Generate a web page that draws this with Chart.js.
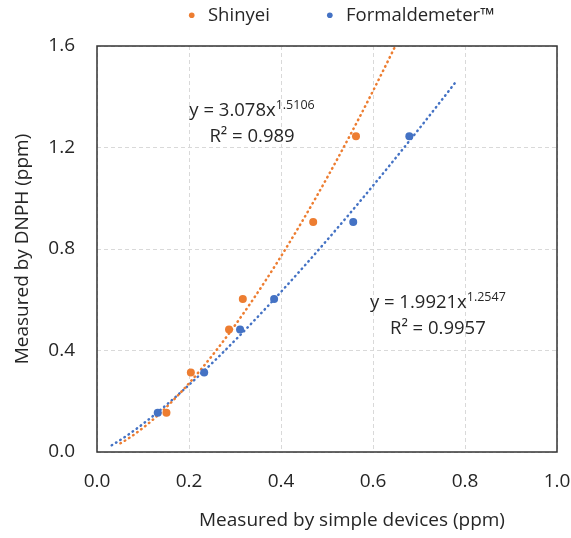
<!DOCTYPE html>
<html>
<head>
<meta charset="utf-8">
<script src="https://cdn.jsdelivr.net/npm/chart.js@4.4.1/dist/chart.umd.min.js"></script>
<style>
  html, body { margin: 0; padding: 0; background: #ffffff; }
  .wrap { width: 571px; height: 538px; }
</style>
</head>
<body>
<div class="wrap"><canvas id="calib" width="571" height="538"></canvas></div>
<script>
// values
const seriesNames = ['Shinyei', 'Formaldemeter\u2122']
const dnph = [0.155, 0.313, 0.483, 0.603, 0.906, 1.244]
const shinyei = [0.151, 0.204, 0.287, 0.317, 0.470, 0.563]
const formaldemeter = [0.132, 0.233, 0.311, 0.385, 0.557, 0.679]

// power trendlines y = a * x^b as printed on the chart
const coefA = [3.078, 1.9921]
const coefB = [1.5106, 1.2547]
const rSquared = [0.989, 0.9957]
const trendFrom = [0.051, 0.032]
const trendTo = [0.663, 0.779]

const xTicks = [0, 0.2, 0.4, 0.6, 0.8, 1.0]
const yTicks = [0, 0.4, 0.8, 1.2, 1.6]

const colors = ['#ED7D31', '#4472C4']
const txt = '#262626'
const fontFam = '"Open Sans", "DejaVu Sans", sans-serif'

const pts = (xs) => xs.map((x, i) => ({x: x, y: dnph[i]}))
const trend = (i) => {
  const out = []
  const n = 60
  for (let k = 0; k <= n; k++) {
    const x = trendFrom[i] + (trendTo[i] - trendFrom[i]) * k / n
    out.push({x: x, y: coefA[i] * Math.pow(x, coefB[i])})
  }
  return out
}

// where the fit labels sit, in axis units
const labelAt = [[0.337, 1.344], [0.741, 0.587]]

const fitLabels = {
  id: 'fitLabels',
  afterDatasetsDraw(chart) {
    const {ctx, scales} = chart
    ctx.save()
    ctx.fillStyle = txt
    ctx.textBaseline = 'middle'
    ctx.textAlign = 'left'
    labelAt.forEach((p, i) => {
      const cx = scales.x.getPixelForValue(p[0])
      const cy = scales.y.getPixelForValue(p[1])
      const main = 'y = ' + coefA[i] + 'x'
      const sup = String(coefB[i])
      ctx.font = '18.5px ' + fontFam
      const w1 = ctx.measureText(main).width
      ctx.font = '12.5px ' + fontFam
      const w2 = ctx.measureText(sup).width
      let x0 = cx - (w1 + w2) / 2
      ctx.font = '18.5px ' + fontFam
      ctx.fillText(main, x0, cy)
      ctx.font = '12.5px ' + fontFam
      ctx.fillText(sup, x0 + w1, cy - 6)
      ctx.font = '18.5px ' + fontFam
      const r = 'R\u00b2 = ' + rSquared[i]
      const w3 = ctx.measureText(r).width
      ctx.fillText(r, cx - w3 / 2, cy + 26)
    })
    ctx.restore()
  }
}

const frame = {
  id: 'frame',
  afterLayout(chart) {
    // nudge the legend row and the x title to where the original puts them
    const lg = chart.legend
    lg.left += 61
    lg.right += 61
    lg.top = 15 - 9 - 53
    lg.bottom = 40
    chart.scales.x.left += 25
    chart.scales.x.right += 25
  },
  afterDraw(chart) {
    const {ctx, chartArea: a} = chart
    ctx.save()
    ctx.strokeStyle = '#333333'
    ctx.lineWidth = 1.5
    ctx.strokeRect(a.left, a.top, a.right - a.left, a.bottom - a.top)
    ctx.restore()
  }
}

const ctx = document.getElementById('calib').getContext('2d')
const chart = new Chart(ctx, {
  type: 'scatter',
  data: {
    datasets: [{
      label: seriesNames[0],
      data: pts(shinyei),
      backgroundColor: colors[0],
      borderColor: colors[0],
      pointRadius: 4,
      pointBorderWidth: 0
    }, {
      label: seriesNames[1],
      data: pts(formaldemeter),
      backgroundColor: colors[1],
      borderColor: colors[1],
      pointRadius: 4,
      pointBorderWidth: 0
    }, {
      label: 'trend ' + seriesNames[0],
      data: trend(0),
      showLine: true,
      pointRadius: 0,
      borderColor: colors[0],
      borderWidth: 2.5,
      borderDash: [0.5, 4.5],
      borderCapStyle: 'round'
    }, {
      label: 'trend ' + seriesNames[1],
      data: trend(1),
      showLine: true,
      pointRadius: 0,
      borderColor: colors[1],
      borderWidth: 2.5,
      borderDash: [0.5, 4.5],
      borderCapStyle: 'round'
    }]
  },
  options: {
    responsive: false,
    animation: false,
    devicePixelRatio: 1,
    layout: {
      padding: {left: 0, right: 14, top: 6, bottom: 0}
    },
    plugins: {
      tooltip: {enabled: false},
      legend: {
        position: 'top',
        maxHeight: 40,
        labels: {
          filter: (item) => item.datasetIndex < 2,
          usePointStyle: true,
          pointStyle: 'circle',
          boxWidth: 14,
          boxHeight: 4,
          padding: 53,
          color: txt,
          font: {family: fontFam, size: 18.5}
        }
      }
    },
    scales: {
      x: {
        type: 'linear',
        min: 0,
        max: 1,
        clip: false,
        afterBuildTicks: (s) => { s.ticks = xTicks.map(v => ({value: v})) },
        afterFit: (s) => { s.height = 86; s.paddingLeft = 0; s.paddingRight = 0 },
        ticks: {
          padding: 18,
          color: txt,
          font: {family: fontFam, size: 19},
          callback: (v) => v.toFixed(1)
        },
        grid: {color: '#d9d9d9', lineWidth: 1, drawTicks: false},
        border: {display: false, dash: [4, 3]},
        title: {
          display: true,
          text: 'Measured by simple devices (ppm)',
          color: txt,
          font: {family: fontFam, size: 19},
          padding: {top: 0, bottom: 6}
        }
      },
      y: {
        type: 'linear',
        min: 0,
        max: 1.6,
        clip: false,
        afterBuildTicks: (s) => { s.ticks = yTicks.map(v => ({value: v})) },
        afterFit: (s) => { s.width = 97; s.paddingTop = 0; s.paddingBottom = 0 },
        ticks: {
          padding: 22,
          color: txt,
          font: {family: fontFam, size: 19},
          callback: (v) => v.toFixed(1)
        },
        grid: {color: '#d9d9d9', lineWidth: 1, drawTicks: false},
        border: {display: false, dash: [4, 3]},
        title: {
          display: true,
          text: 'Measured by DNPH (ppm)',
          color: txt,
          font: {family: fontFam, size: 19},
          padding: {top: 11, bottom: 0}
        }
      }
    }
  },
  plugins: [fitLabels, frame]
})
</script>
</body>
</html>
